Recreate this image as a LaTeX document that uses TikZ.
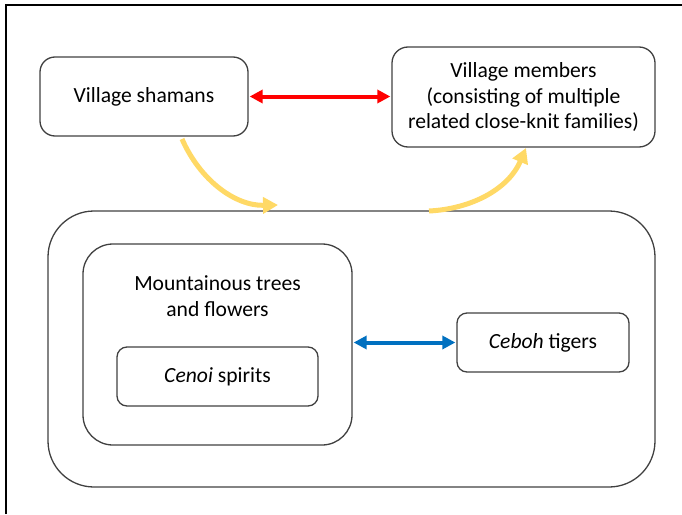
\documentclass[tikz,border=0pt]{standalone}
\usepackage{fontspec}
\setmainfont{Carlito}
\usetikzlibrary{arrows.meta}
\definecolor{boxline}{HTML}{404040}
\definecolor{gold}{HTML}{FFD966}
\definecolor{redarr}{HTML}{FF0000}
\definecolor{bluearr}{HTML}{0070C0}
\tikzset{
  box/.style={draw=boxline, line width=1.3pt, inner sep=0pt, align=center,
    font=\fontsize{21.6}{25.8}\selectfont},
  txt/.style={inner sep=0pt, align=center, font=\fontsize{21.6}{25.8}\selectfont},
  redlink/.style={redarr, line width=4pt, {Triangle[length=13pt,width=13pt]}-{Triangle[length=13pt,width=13pt]}, shorten <=1pt, shorten >=1pt},
  bluelink/.style={bluearr, line width=4pt, {Triangle[length=13pt,width=13pt]}-{Triangle[length=13pt,width=13pt]}, shorten <=1pt, shorten >=1pt},
  goldlink/.style={gold, line width=5pt, -{Triangle[length=15pt,width=16pt]}}
}
\begin{document}
\begin{tikzpicture}[x=1pt,y=-1pt]
\useasboundingbox (0,0) rectangle (682,514);
% frame
\draw[line width=1.6pt, black] (6,514) -- (6,5) -- (682,5);
% boxes
\node[box, rounded corners=15pt, minimum width=208pt, minimum height=79pt] (shamans) at (144,96.5) {Village shamans};
\node[box, rounded corners=16pt, minimum width=263pt, minimum height=100pt] (members) at (523.5,97) {Village members\\(consisting of multiple\\related close-knit families)};
\node[box, rounded corners=46pt, minimum width=607pt, minimum height=276pt] (big) at (351.5,349) {};
\node[box, rounded corners=30pt, minimum width=269pt, minimum height=201pt] (mountain) at (217.5,344.5) {};
\node[txt] (mtext) at (217.5,296) {Mountainous trees\\and flowers};
\node[box, rounded corners=10pt, minimum width=201pt, minimum height=59pt] (cenoi) at (217.5,376.5) {\textit{Cenoi} spirits};
\node[box, rounded corners=10pt, minimum width=172pt, minimum height=59pt] (ceboh) at (543,342.5) {\textit{Ceboh} tigers};
% connectors
\draw[redlink] (shamans.east) -- (members.west |- shamans.east);
\draw[bluelink] (mountain.east |- ceboh.west) -- (ceboh.west);
\coordinate (g1s) at (182,139);
\coordinate (g1e) at (278,205);
\coordinate (g2s) at (429,211);
\coordinate (g2e) at (526,148);
\draw[goldlink] (g1s) .. controls (200,180) and (235,206) .. (g1e);
\draw[goldlink] (g2s) .. controls (470,209) and (508,190) .. (g2e);
\end{tikzpicture}
\end{document}
